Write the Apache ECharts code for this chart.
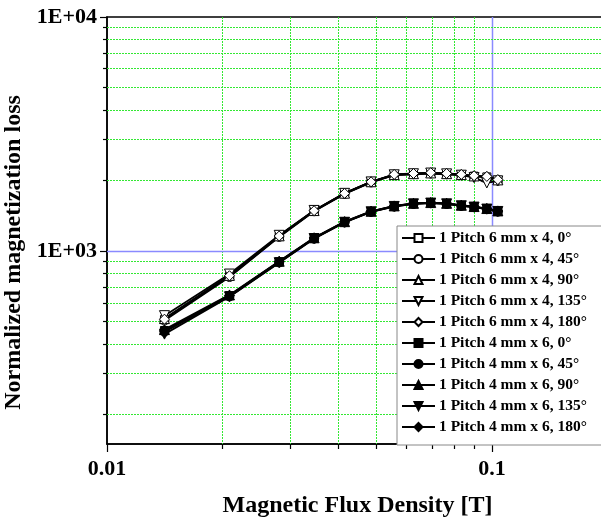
<!DOCTYPE html>
<html>
<head>
<meta charset="utf-8">
<script src="https://cdn.jsdelivr.net/npm/echarts@6/dist/echarts.min.js"></script>
<style>
  html, body { margin: 0; padding: 0; background: #fff; }
  #chart { width: 601px; height: 526px; }
</style>
</head>
<body>
<div id="chart"></div>
<script>
// Magnetic flux density [T]
const fluxDensity = [0.0141, 0.0208, 0.0280, 0.0345, 0.0414, 0.0485, 0.0557, 0.0625, 0.0693, 0.0762, 0.0832, 0.0898, 0.0969, 0.1035];

// Normalized magnetization loss, 1 pitch 6 mm x 4
const p6_0   = [510, 780, 1155, 1485, 1760, 1970, 2115, 2135, 2150, 2135, 2115, 2090, 2075, 2010];
const p6_45  = [505, 775, 1150, 1480, 1755, 1965, 2110, 2130, 2145, 2130, 2110, 2085, 2065, 2000];
const p6_90  = [515, 788, 1162, 1490, 1768, 1978, 2122, 2142, 2158, 2142, 2122, 2095, 2080, 2015];
const p6_135 = [530, 798, 1168, 1492, 1765, 1975, 2118, 2140, 2155, 2138, 2110, 2060, 1955, 1995];
const p6_180 = [512, 785, 1160, 1488, 1765, 1976, 2125, 2145, 2162, 2146, 2125, 2098, 2085, 2020];

// Normalized magnetization loss, 1 pitch 4 mm x 6
const p4_0   = [458, 645, 900, 1136, 1332, 1475, 1555, 1596, 1607, 1596, 1565, 1545, 1515, 1480];
const p4_45  = [452, 640, 895, 1130, 1326, 1470, 1550, 1590, 1602, 1590, 1560, 1540, 1510, 1475];
const p4_90  = [462, 650, 905, 1140, 1336, 1480, 1560, 1600, 1612, 1600, 1570, 1550, 1520, 1485];
const p4_135 = [442, 638, 892, 1132, 1328, 1472, 1552, 1592, 1604, 1592, 1562, 1542, 1512, 1477];
const p4_180 = [456, 647, 902, 1138, 1334, 1478, 1558, 1598, 1609, 1598, 1568, 1548, 1518, 1483];

const seriesNames = [
  '1 Pitch 6 mm x 4, 0°', '1 Pitch 6 mm x 4, 45°', '1 Pitch 6 mm x 4, 90°',
  '1 Pitch 6 mm x 4, 135°', '1 Pitch 6 mm x 4, 180°',
  '1 Pitch 4 mm x 6, 0°', '1 Pitch 4 mm x 6, 45°', '1 Pitch 4 mm x 6, 90°',
  '1 Pitch 4 mm x 6, 135°', '1 Pitch 4 mm x 6, 180°'
];
const seriesValues = [p6_0, p6_45, p6_90, p6_135, p6_180, p4_0, p4_45, p4_90, p4_135, p4_180];

// Axis ticks and labels
const xTickValues = [0.01, 0.1];
const xTickLabels = ['0.01', '0.1'];
const yTickValues = [1000, 10000];
const yTickLabels = ['1E+03', '1E+04'];
const xMinorValues = [0.02, 0.03, 0.04, 0.05, 0.06, 0.07, 0.08, 0.09];
const yMinorValues = [200, 300, 400, 500, 600, 700, 800, 900, 2000, 3000, 4000, 5000, 6000, 7000, 8000, 9000];

const X_MIN = 0.01, X_MAX = 0.2;
const Y_MIN = 150, Y_MAX = 10000;

const FONT = 'Liberation Serif';
const downTriangle = 'path://M0,0L10,0L5,9Z';
const symbolShapes = ['rect', 'circle', 'triangle', downTriangle, 'diamond'];
const symbolSizes = [8, 9, 10, 10, 10];

function findLabel(v, values, labels) {
  for (let i = 0; i < values.length; i++) {
    if (Math.abs(v - values[i]) / values[i] < 1e-6) return labels[i];
  }
  return '';
}

const dataSeries = seriesValues.map((vals, i) => {
  const k = i % 5;
  const filled = i >= 5;
  return {
    name: seriesNames[i],
    type: 'line',
    z: 3,
    data: fluxDensity.map((x, j) => [x, vals[j]]),
    symbol: symbolShapes[k],
    symbolSize: symbolSizes[k],
    showAllSymbol: true,
    lineStyle: { color: '#000', width: 1.8 },
    itemStyle: { color: filled ? '#000' : '#fff', borderColor: '#000', borderWidth: 1 },
    emphasis: { disabled: true }
  };
});

// Grid lines and ticks drawn through the axis coordinate system
const gridGreen = '#33e833';
const gridBlue = '#8a8aff';
const minorStyle = { stroke: gridGreen, lineWidth: 1, lineDash: [2, 1] };
const majorStyle = { stroke: gridBlue, lineWidth: 1.5 };
const tickStyle = { stroke: '#000', lineWidth: 1.2 };
const crisp = p => Math.round(p - 0.5) + 0.5;

function vertLine(params, api) {
  const v = api.value(0);
  const major = api.value(2) === 1;
  const b = api.coord([v, Y_MIN]);
  const t = api.coord([v, Y_MAX]);
  const x = crisp(b[0]);
  const children = [];
  if (v > X_MIN * 1.0001) {
    children.push({
      type: 'line',
      shape: { x1: x, y1: Math.round(t[1]), x2: x, y2: Math.round(b[1]) },
      style: major ? majorStyle : minorStyle
    });
  }
  children.push({
    type: 'line',
    shape: { x1: x, y1: b[1], x2: x, y2: b[1] + (major ? 8 : 5) },
    style: tickStyle
  });
  return { type: 'group', children };
}

function horzLine(params, api) {
  const v = api.value(1);
  const major = api.value(2) === 1;
  const l = api.coord([X_MIN, v]);
  const r = api.coord([X_MAX, v]);
  const y = crisp(l[1]);
  const children = [];
  if (v < Y_MAX * 0.9999) {
    children.push({
      type: 'line',
      shape: { x1: Math.round(l[0]), y1: y, x2: Math.round(r[0]), y2: y },
      style: major ? majorStyle : minorStyle
    });
  }
  children.push({
    type: 'line',
    shape: { x1: l[0], y1: y, x2: l[0] - (major ? 7 : 4), y2: y },
    style: tickStyle
  });
  return { type: 'group', children };
}

const gridSeries = [
  {
    type: 'custom', name: 'xgrid', z: 1, silent: true, clip: false,
    renderItem: vertLine,
    data: xMinorValues.map(v => [v, Y_MIN, 0]).concat(xTickValues.map(v => [v, Y_MIN, 1]))
  },
  {
    type: 'custom', name: 'ygrid', z: 1, silent: true, clip: false,
    renderItem: horzLine,
    data: yMinorValues.map(v => [X_MIN, v, 0]).concat(yTickValues.map(v => [X_MIN, v, 1]))
  }
];

const chart = echarts.init(document.getElementById('chart'), null, { renderer: 'canvas' });
chart.setOption({
  animation: false,
  backgroundColor: '#fff',
  grid: {
    left: 107, top: 17, width: 501, height: 427,
    containLabel: false, outerBoundsMode: 'none',
    show: true, borderColor: '#000', borderWidth: 1.5, backgroundColor: 'transparent'
  },
  legend: {
    data: seriesNames,
    orient: 'vertical',
    left: 397, top: 226,
    itemWidth: 33, itemHeight: 10, itemGap: 5,
    padding: [4, 40, 10, 4],
    backgroundColor: '#fff',
    borderColor: '#888', borderWidth: 1,
    selectedMode: false,
    textStyle: { fontFamily: FONT, fontWeight: 'bold', fontSize: 15.5, color: '#000', padding: [0, 0, 0, -1] }
  },
  xAxis: {
    type: 'log', logBase: 10, min: X_MIN, max: X_MAX,
    name: 'Magnetic Flux Density [T]',
    nameLocation: 'middle', nameGap: 50,
    nameTextStyle: { fontFamily: FONT, fontWeight: 'bold', fontSize: 24, color: '#000' },
    axisLine: { show: true, lineStyle: { color: '#000', width: 1.5 } },
    axisTick: { show: false },
    splitLine: { show: false },
    minorTick: { show: false },
    axisLabel: {
      margin: 14, fontFamily: FONT, fontWeight: 'bold', fontSize: 22, color: '#000',
      showMinLabel: true, showMaxLabel: false,
      formatter: v => findLabel(v, xTickValues, xTickLabels)
    }
  },
  yAxis: {
    type: 'log', logBase: 10, min: Y_MIN, max: Y_MAX,
    name: 'Normalized magnetization loss',
    nameLocation: 'middle', nameGap: 72,
    nameTextStyle: { fontFamily: FONT, fontWeight: 'bold', fontSize: 24, color: '#000', padding: [0, 44, 0, 0] },
    axisLine: { show: true, lineStyle: { color: '#000', width: 1.5 } },
    axisTick: { show: false },
    splitLine: { show: false },
    minorTick: { show: false },
    axisLabel: {
      margin: 10, fontFamily: FONT, fontWeight: 'bold', fontSize: 22, color: '#000',
      showMinLabel: false, showMaxLabel: true,
      formatter: v => findLabel(v, yTickValues, yTickLabels)
    }
  },
  series: gridSeries.concat(dataSeries)
});
</script>
</body>
</html>
